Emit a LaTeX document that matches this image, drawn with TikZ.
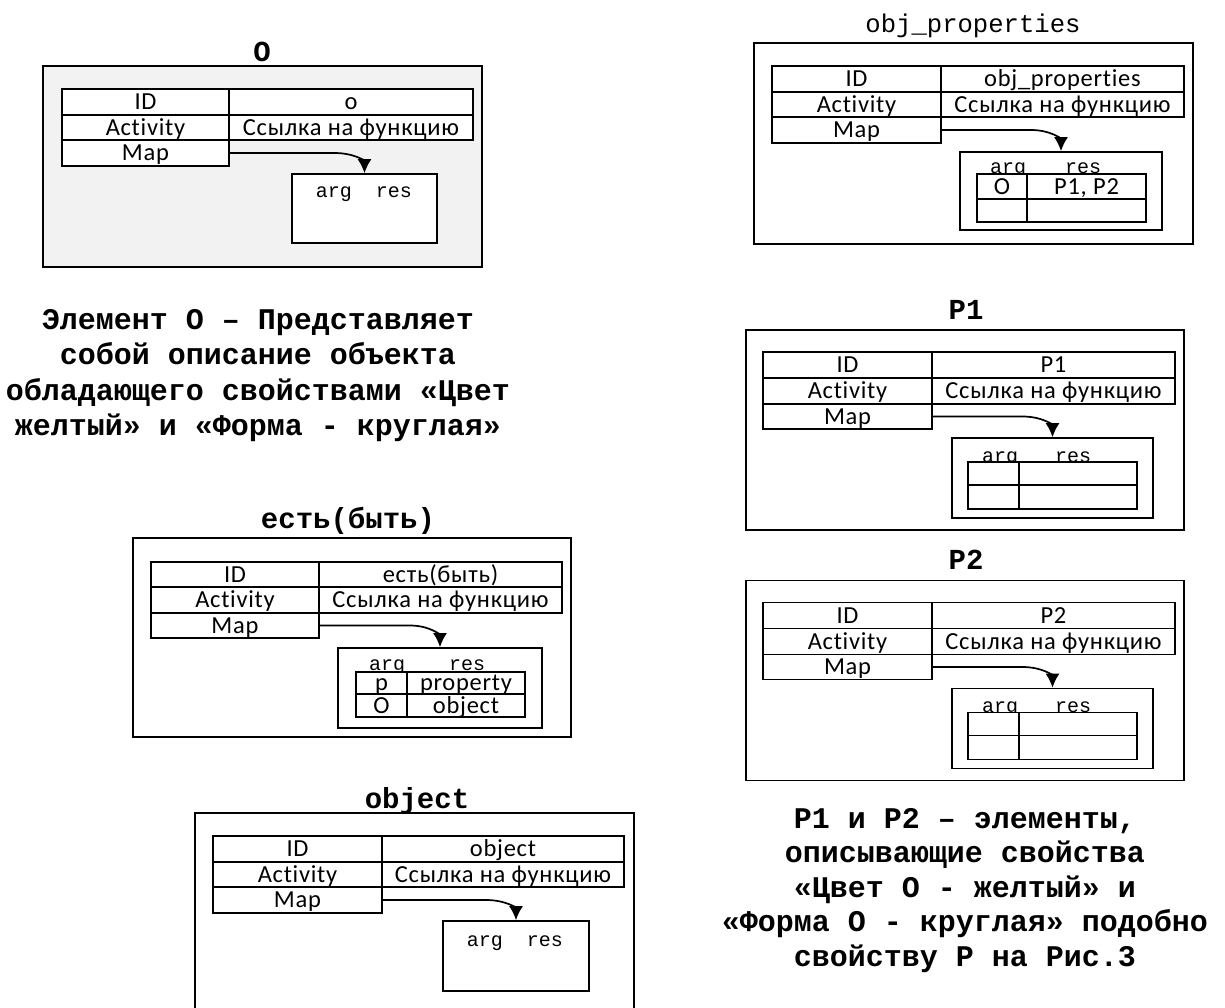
\documentclass[tikz,border=0pt]{standalone}
\usepackage{fontspec}
\setmainfont{Carlito}
\newfontfamily\cellfam[LetterSpace=3,Ligatures=NoCommon]{Carlito}
\newfontfamily\monofam{Liberation Mono}
\usetikzlibrary{arrows.meta,calc}
\definecolor{bgO}{HTML}{F2F2F2}
\newcommand\cellfont{\cellfam\fontsize{24.5}{29}\selectfont}
\newcommand\cellnode[6]{\node[cell, minimum width={(#4-#2)*1pt}, minimum height={(#5-#3)*1pt}] (#1) at ({(#2+#4)/2},{(#3+#5)/2}) {#6};}
\newcommand\outerbox[6][]{\node[box, #1, minimum width={(#5-#3)*1pt}, minimum height={(#6-#4)*1pt}] (#2) at ({(#3+#5)/2},{(#4+#6)/2}) {};}
\newcommand\maintable[9]{%
 \cellnode{#1id}{#2}{#5}{#3}{#6}{ID}
 \cellnode{#1idv}{#3}{#5}{#4}{#6}{#9}
 \cellnode{#1act}{#2}{#6}{#3}{#7}{Activity}
 \cellnode{#1actv}{#3}{#6}{#4}{#7}{Ссылка на функцию}
 \cellnode{#1map}{#2}{#7}{#3}{#8}{Map}}
\newcommand\maparrow[2]{\draw[conn] (#1.east) -- ($(#1.east -| #2.north)+(-30,0)$) .. controls ($(#1.east -| #2.north)+(-10,0)$) and ($(#2.north)+(0,-12)$) .. (#2.north);}
\newcommand\pelem[3]{%
 \begin{scope}[shift={(0,#2)}]
 \outerbox{#1Box}{746}{330}{1184}{530}
 \node[ttl] (#1T) at (966,319) {#3};
 \maintable{#1}{763}{932}{1175}{352}{378}{404}{429}{#3}
 \outerbox[fill=white]{#1In}{952}{438}{1153}{518}
 \node[argl] (#1A) at (1000,462) {arg};
 \node[argl] (#1R) at (1073,462) {res};
 \cellnode{#1a1}{968}{462}{1019}{485}{}
 \cellnode{#1b1}{1019}{462}{1137}{485}{}
 \cellnode{#1a2}{968}{485}{1019}{509}{}
 \cellnode{#1b2}{1019}{485}{1137}{509}{}
 \maparrow{#1map}{#1In}
 \end{scope}}
\begin{document}
\begin{tikzpicture}[x=1pt,y=-1pt,
  lw/.style={line width=1.7pt},
  box/.style={draw, lw, inner sep=0pt, outer sep=0.85pt},
  cell/.style={box, fill=white, font=\cellfont, text height=15.5pt, text depth=0pt},
  conn/.style={lw, -{Latex[length=14pt,width=14pt]}},
  ttl/.style={font=\monofam\bfseries\fontsize{29}{34}\selectfont, anchor=base, inner sep=0pt},
  captxt/.style={font=\monofam\bfseries\fontsize{30}{35}\selectfont, anchor=base, inner sep=0pt},
  argl/.style={font=\monofam\fontsize{20}{24}\selectfont, anchor=base, inner sep=0pt}]
\useasboundingbox (0,0) rectangle (1225,1007);
\fill[white] (0,0) rectangle (1225,1007);
% ---- O ----
\outerbox[fill=bgO]{oBox}{43}{66}{482}{267}
\node[ttl] (oT) at (262,61) {О};
\maintable{o}{62}{229}{473}{89}{115}{140}{166}{о}
\outerbox[fill=white]{oIn}{292}{174}{437}{243}
\node[argl] (oA) at (364,197) {arg\ \ res};
\maparrow{omap}{oIn}
% ---- obj_properties ----
\outerbox{pBox}{754}{43}{1193}{244}
\node[font=\monofam\fontsize{25.6}{30}\selectfont, anchor=base, inner sep=0pt] (pT) at (973,32) {obj\_properties};
\maintable{p}{772}{941}{1184}{66}{92}{117}{143}{obj\_properties}
\outerbox[fill=white]{pIn}{960}{152}{1162}{230}
\node[argl] (pA) at (1008,173) {arg};
\node[argl] (pR) at (1083,173) {res};
\cellnode{pa1}{977}{174}{1027}{199}{О}
\cellnode{pb1}{1027}{174}{1146}{199}{P1, P2}
\cellnode{pa2}{977}{199}{1027}{222}{}
\cellnode{pb2}{1027}{199}{1146}{222}{}
\maparrow{pmap}{pIn}
% ---- есть(быть) ----
\outerbox{eBox}{133}{538}{571}{737}
\node[ttl] (eT) at (348,528) {есть(быть)};
\maintable{e}{151}{319}{562}{562}{587}{613}{638}{есть(быть)}
\outerbox[fill=white]{eIn}{338}{648}{542}{728}
\node[argl] (eA) at (387,670) {arg};
\node[argl] (eR) at (467,670) {res};
\cellnode{ea1}{356}{672}{407}{694}{p}
\cellnode{eb1}{407}{672}{525}{694}{property}
\cellnode{ea2}{356}{694}{407}{717}{О}
\cellnode{eb2}{407}{694}{525}{717}{object}
\maparrow{emap}{eIn}
% ---- object ----
\outerbox{bBox}{195}{813}{634}{1030}
\node[ttl] (bT) at (417,808) {object};
\maintable{b}{213}{382}{624}{836}{862}{887}{913}{object}
\outerbox[fill=white]{bIn}{443}{921}{589}{991}
\node[argl] (bA) at (515,946) {arg\ \ res};
\maparrow{bmap}{bIn}
% ---- P1, P2 ----
\pelem{q}{0}{P1}
\pelem{r}{250.5}{P2}
% ---- captions ----
\node[captxt] (c1a) at (258,329) {Элемент О – Представляет};
\node[captxt] (c1b) at (258,364.5) {собой описание объекта};
\node[captxt] (c1c) at (258,400) {обладающего свойствами «Цвет};
\node[captxt] (c1d) at (258,435.5) {желтый» и «Форма - круглая»};
\node[captxt] (c2a) at (965,828) {P1 и P2 – элементы,};
\node[captxt] (c2b) at (965,862.5) {описывающие свойства};
\node[captxt] (c2c) at (965,897) {«Цвет О - желтый» и};
\node[captxt] (c2d) at (965,931.5) {«Форма О - круглая» подобно};
\node[captxt] (c2e) at (965,966) {свойству Р на Рис.3};
\end{tikzpicture}
\end{document}
